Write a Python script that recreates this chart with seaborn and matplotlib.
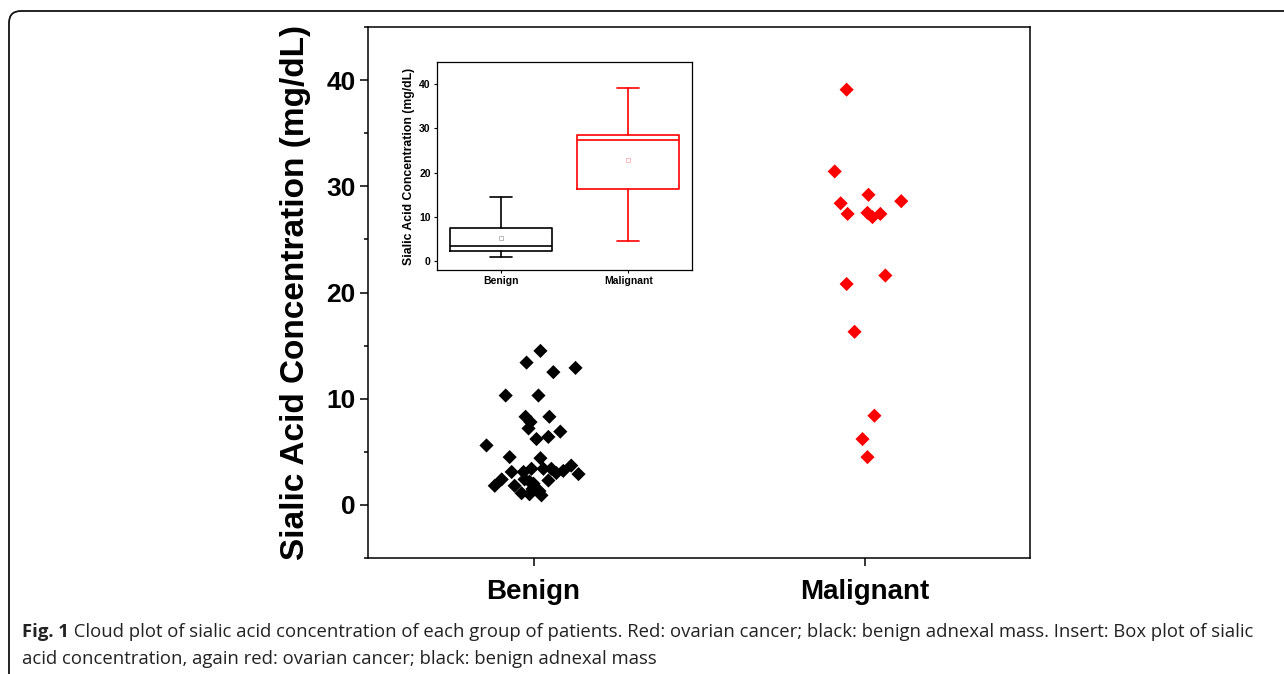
import numpy as np
import pandas as pd
import matplotlib
matplotlib.use("Agg")
import matplotlib.pyplot as plt
from matplotlib.path import Path
from matplotlib.patches import PathPatch
import seaborn as sns

# ---------------- data ----------------
categories = ["Benign", "Malignant"]
benign_values = [14.5, 13.4, 12.5, 12.9, 10.3, 10.3, 8.3, 8.3, 7.8, 7.2, 6.9, 6.4, 6.2,
                 5.6, 4.5, 4.4, 3.7, 3.4, 3.4, 3.4, 3.2, 3.1, 3.1, 2.9, 3.0, 2.4, 2.4,
                 2.3, 2.2, 2.0, 1.8, 1.8, 1.5, 1.3, 1.1, 1.0, 0.9]
benign_jitter = [0.021, -0.021, 0.060, 0.127, -0.084, 0.015, -0.024, 0.048, -0.009,
                 -0.015, 0.081, 0.045, 0.009, -0.142, -0.072, 0.021, 0.114, -0.006,
                 0.030, 0.054, 0.090, -0.066, -0.030, 0.136, 0.069, -0.096, -0.027,
                 0.045, -0.012, 0.0, -0.117, -0.057, -0.003, 0.018, -0.036, -0.012, 0.024]
malignant_values = [39.1, 31.4, 29.2, 28.4, 28.6, 27.4, 27.5, 27.1, 27.4, 21.6, 20.8,
                    16.3, 8.4, 6.2, 4.5]
malignant_jitter = [-0.054, -0.090, 0.012, -0.072, 0.111, -0.051, 0.009, 0.024, 0.048,
                    0.063, -0.054, -0.030, 0.030, -0.006, 0.009]
colors = {"Benign": "#000000", "Malignant": "#FF0000"}
mean_colors = {"Benign": "#b0b0b0", "Malignant": "#ffb0b0"}
y_label = "Sialic Acid Concentration (mg/dL)"
caption_bold = "Fig. 1"
caption_line1 = (" Cloud plot of sialic acid concentration of each group of patients. Red: ovarian "
                 "cancer; black: benign adnexal mass. Insert: Box plot of sialic")
caption_line2 = "acid concentration, again red: ovarian cancer; black: benign adnexal mass"

df = pd.DataFrame({
    "group": ["Benign"] * len(benign_values) + ["Malignant"] * len(malignant_values),
    "value": benign_values + malignant_values,
    "jitter": benign_jitter + malignant_jitter,
})
df["xpos"] = df["group"].map({c: i for i, c in enumerate(categories)}) + df["jitter"]

# ---------------- style ----------------
sns.set_theme(style="ticks")
plt.rcParams["font.family"] = ["Liberation Sans", "DejaVu Sans"]
plt.rcParams["axes.linewidth"] = 1.1
for k in ("text.color", "axes.labelcolor", "xtick.color", "ytick.color", "axes.edgecolor"):
    plt.rcParams[k] = "black"

fig = plt.figure(figsize=(12.84, 6.74), dpi=100)
W, H = 1284, 674

def fx(px):
    return px / W

def fy(py):
    return 1 - py / H

# ---------------- main axes ----------------
ax = fig.add_axes([fx(368), fy(558), fx(1030) - fx(368), fy(27) - fy(558)])
sns.scatterplot(data=df, x="xpos", y="value", hue="group", palette=colors,
                marker="D", s=52, linewidth=0, legend=False, ax=ax)
ax.set_xlim(-0.5, 1.5)
ax.set_ylim(-5, 45)
ax.set_xticks(range(len(categories)))
ax.set_xticklabels(categories, fontsize=20, fontweight="bold")
ax.set_yticks([0, 10, 20, 30, 40])
ax.set_yticks([-5, 5, 15, 25, 35, 45], minor=True)
ax.tick_params(axis="y", which="major", direction="out", length=6, width=1.1,
               labelsize=19, pad=3)
ax.tick_params(axis="y", which="minor", direction="out", length=3, width=1.1)
ax.tick_params(axis="x", which="major", direction="out", length=6, width=1.1, pad=9)
for lab in ax.get_yticklabels():
    lab.set_fontweight("bold")
ax.set_xlabel("")
ax.set_ylabel(y_label, fontsize=24, fontweight="bold", labelpad=11)
for sp in ax.spines.values():
    sp.set_visible(True)
    sp.set_linewidth(1.1)
    sp.set_color("black")

# ---------------- inset box plot ----------------
ax2 = fig.add_axes([fx(437), fy(270), fx(692) - fx(437), fy(62) - fy(270)])
stats = []
for cat, vals in zip(categories, [benign_values, malignant_values]):
    v = np.asarray(vals, dtype=float)
    q1, med, q3 = np.percentile(v, [25, 50, 75], method="weibull")
    stats.append(dict(label=cat, q1=q1, med=med, q3=q3, whislo=v.min(), whishi=v.max(),
                      mean=v.mean(), fliers=[]))
bp = ax2.bxp(stats, positions=[0, 1], widths=0.8, capwidths=0.17, showmeans=True,
             showfliers=False, patch_artist=False)
for i, cat in enumerate(categories):
    c = colors[cat]
    bp["boxes"][i].set(color=c, linewidth=1.2)
    bp["medians"][i].set(color=c, linewidth=1.2)
    for j in (2 * i, 2 * i + 1):
        bp["whiskers"][j].set(color=c, linewidth=1.2)
        bp["caps"][j].set(color=c, linewidth=1.2)
    bp["means"][i].set(marker="s", markersize=2.5, markerfacecolor="none",
                       markeredgecolor=mean_colors[cat], markeredgewidth=0.6)
ax2.set_xlim(-0.5, 1.5)
ax2.set_ylim(-2, 45)
ax2.set_yticks([0, 10, 20, 30, 40])
ax2.set_xticks([0, 1])
ax2.set_xticklabels(categories, fontsize=7.5, fontweight="bold")
ax2.tick_params(axis="both", direction="out", length=2.5, width=0.8, labelsize=7.5, pad=2)
for lab in ax2.get_yticklabels():
    lab.set_fontweight("bold")
ax2.set_ylabel(y_label, fontsize=8.8, fontweight="bold", labelpad=3)
for sp in ax2.spines.values():
    sp.set_visible(True)
    sp.set_linewidth(0.9)
    sp.set_color("black")

# ---------------- caption & frame ----------------
cap_font = ["Open Sans", "DejaVu Sans"]
cap_size = 13.3
t0 = fig.text(fx(22), fy(632), caption_bold, fontsize=cap_size, fontweight="bold",
              family=cap_font, va="center", ha="left", color="#222222")
renderer = fig.canvas.get_renderer()
bb = t0.get_window_extent(renderer=renderer)
fig.text(bb.x1 / W, fy(632), caption_line1, fontsize=cap_size, family=cap_font,
         va="center", ha="left", color="#222222")
fig.text(fx(22), fy(659), caption_line2, fontsize=cap_size, family=cap_font,
         va="center", ha="left", color="#222222")

r = 12
verts = [(fx(9), 0.0), (fx(9), fy(11 + r)), (fx(9), fy(11)), (fx(9 + r), fy(11)),
         (1.0, fy(11))]
codes = [Path.MOVETO, Path.LINETO, Path.CURVE3, Path.CURVE3, Path.LINETO]
fig.add_artist(PathPatch(Path(verts, codes), transform=fig.transFigure,
                         facecolor="none", edgecolor="#111111", linewidth=1.3))

fig.savefig("out.png", dpi=100)
